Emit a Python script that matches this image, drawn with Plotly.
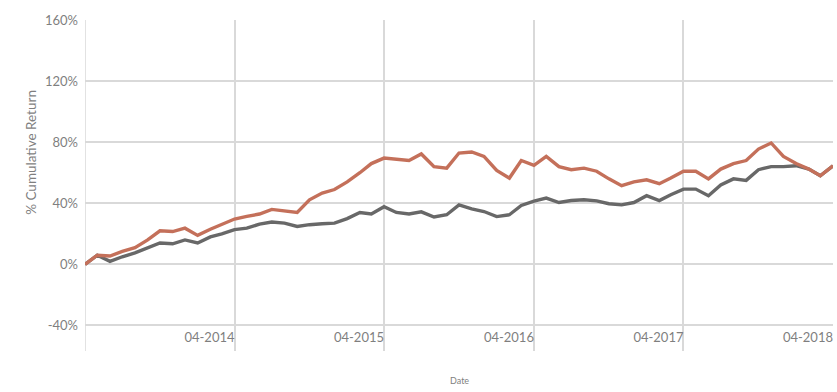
import pandas as pd
import plotly.graph_objects as go

# Monthly dates, Apr 2013 - Apr 2018
dates = pd.date_range("2013-04-01", "2018-04-01", freq="MS")

# Cumulative return (%)
strategy = [
    0, 6, 5.5, 8.5, 11, 16, 22, 21.5, 23.7, 19, 23, 26,
    29.7, 31.4, 33, 36, 35, 34, 42.3, 46.7, 49, 54, 60, 66,
    69.6, 69, 68, 72.3, 64, 63, 72.9, 73.6, 70.7, 61.5, 56.5, 68,
    64.8, 70.7, 64, 62, 63, 61, 56, 51.5, 54, 55.4, 52.8, 56.5,
    61, 61, 56, 62.4, 66, 68, 75.5, 79.5, 70.7, 66, 62.4, 58,
    64.6,
]
benchmark = [
    0, 6, 2, 5, 7.5, 10.7, 14, 13.5, 16, 14, 18, 20,
    22.8, 23.7, 26.4, 27.7, 27, 24.8, 26, 26.6, 27, 30, 34, 33,
    37.8, 34, 33, 34.4, 31, 32.5, 39, 36.4, 34.6, 31.3, 32.5, 38.6,
    41.4, 43.4, 40.5, 41.8, 42.3, 41.6, 39.7, 39, 40.5, 45, 41.8, 45.6,
    49.3, 49.3, 45, 52, 56, 55, 62, 64, 64, 64.6, 62.4, 58,
    64.6,
]

y_ticks = [-40, 0, 40, 80, 120, 160]
y_labels = ["-40%", "0%", "40%", "80%", "120%", "160%"]
x_ticks = pd.date_range("2014-04-01", "2018-04-01", freq="12MS")

GRID = "#d9d9d9"
TEXT = "#7f7f7f"

fig = go.Figure()
fig.add_trace(go.Scatter(x=dates, y=benchmark, mode="lines",
                         line=dict(color="#686868", width=3.4)))
fig.add_trace(go.Scatter(x=dates, y=strategy, mode="lines",
                         line=dict(color="#c4705a", width=3.4)))

fig.update_layout(
    width=837, height=392,
    margin=dict(l=85, r=4, t=20, b=41),
    paper_bgcolor="white", plot_bgcolor="white",
    showlegend=False,
    font=dict(family="Lato, Open Sans, sans-serif", color=TEXT),
)
fig.update_xaxes(
    range=[dates[0], dates[-1]],
    tickvals=x_ticks,
    tickformat="%m-%Y",
    ticklabelposition="inside left",
    tickfont=dict(size=13, color=TEXT),
    showgrid=True, gridcolor=GRID, gridwidth=1.5,
    zeroline=False, showline=False, ticks="",
)
fig.update_yaxes(
    range=[-56.7, 160],
    tickvals=y_ticks,
    ticktext=y_labels,
    tickfont=dict(size=13, color=TEXT),
    showgrid=True, gridcolor=GRID, gridwidth=1.5,
    zeroline=False, showline=False, ticks="", ticklabelstandoff=6,
)
fig.add_shape(type="line", xref="x", yref="paper", x0=dates[0], x1=dates[0],
              y0=0, y1=1, line=dict(color=GRID, width=1.5), layer="below")

fig.add_annotation(text="% Cumulative Return", xref="paper", yref="paper",
                   x=-0.085, y=0.6, textangle=-90, showarrow=False,
                   font=dict(size=13.5, color=TEXT))
fig.add_annotation(text="Date", xref="paper", yref="paper",
                   x=0.5, y=-0.09, showarrow=False, yanchor="middle",
                   font=dict(size=9, color=TEXT))

fig.write_html("out.html", config={"displayModeBar": False},
               post_script="document.body.style.margin='0';")
